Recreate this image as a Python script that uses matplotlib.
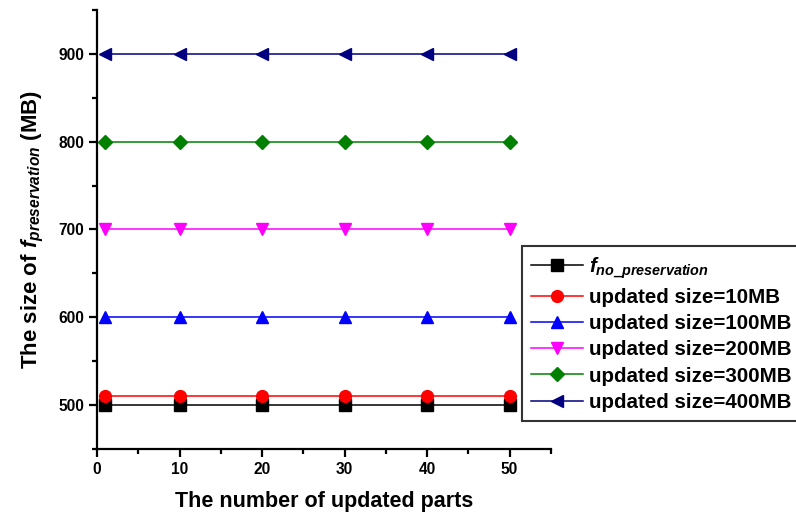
import matplotlib
matplotlib.use("Agg")
import matplotlib.pyplot as plt
from matplotlib.ticker import MultipleLocator

plt.rcParams['font.family'] = ['Liberation Sans', 'DejaVu Sans']
plt.rcParams['font.weight'] = 'bold'
plt.rcParams['axes.labelweight'] = 'bold'
plt.rcParams['mathtext.fontset'] = 'custom'
plt.rcParams['mathtext.it'] = 'Liberation Sans:italic:bold'
plt.rcParams['mathtext.rm'] = 'Liberation Sans:bold'

# dati
parts = [1, 10, 20, 30, 40, 50]
no_pres = [500, 500, 500, 500, 500, 500]
upd_10 = [510, 510, 510, 510, 510, 510]
upd_100 = [600, 600, 600, 600, 600, 600]
upd_200 = [700, 700, 700, 700, 700, 700]
upd_300 = [800, 800, 800, 800, 800, 800]
upd_400 = [900, 900, 900, 900, 900, 900]

series = [
    (no_pres, 'black', 's', r'$f_{no\_preservation}$'),
    (upd_10, 'red', 'o', 'updated size=10MB'),
    (upd_100, 'blue', '^', 'updated size=100MB'),
    (upd_200, 'magenta', 'v', 'updated size=200MB'),
    (upd_300, '#008000', 'D', 'updated size=300MB'),
    (upd_400, '#000080', '<', 'updated size=400MB'),
]

fig = plt.figure(figsize=(7.96, 5.15), dpi=100)
ax = fig.add_axes([0.122, 0.128, 0.570, 0.853])

for vals, col, mk, lab in series:
    ms = 7.5 if mk == 'D' else 8.5
    ax.plot(parts, vals, color=col, marker=mk, markersize=ms,
            linewidth=1.1, label=lab)

ax.set_xlim(0, 55)
ax.set_ylim(450, 950)
ax.xaxis.set_minor_locator(MultipleLocator(5))
ax.yaxis.set_minor_locator(MultipleLocator(50))
ax.set_xticks([0, 10, 20, 30, 40, 50])
ax.set_yticks([500, 600, 700, 800, 900])

for s in ['top', 'right']:
    ax.spines[s].set_visible(False)
for s in ['left', 'bottom']:
    ax.spines[s].set_linewidth(1.6)

ax.tick_params(which='major', direction='out', length=6, width=1.6,
               labelsize=11.2)
ax.tick_params(which='minor', direction='out', length=3.5, width=1.6)

ax.set_xlabel("The number of updated parts", fontsize=15.5, labelpad=10)
ax.set_ylabel(r"The size of $f_{preservation}$ (MB)", fontsize=16,
              labelpad=9)

leg = fig.legend(loc='upper left', bbox_to_anchor=(522 / 796, 1 - 246 / 515),
                 borderaxespad=0, prop={'size': 14.8, 'weight': 'bold'},
                 frameon=True, fancybox=False,
                 edgecolor='black', handlelength=2.5, handletextpad=0.3,
                 labelspacing=0.35, borderpad=0.45)
leg.get_frame().set_linewidth(1.5)

fig.savefig("out.png", dpi=100)
